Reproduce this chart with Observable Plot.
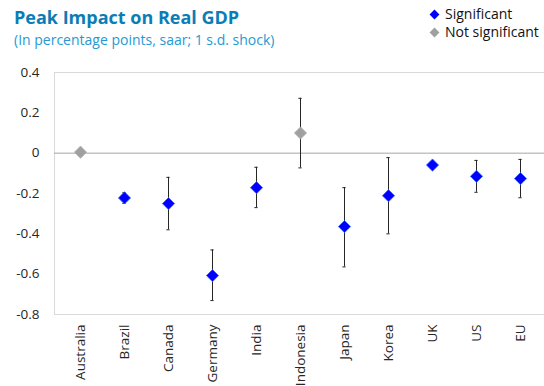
<!DOCTYPE html>
<html>
<head>
<meta charset="utf-8">
<script src="https://cdn.jsdelivr.net/npm/d3@7"></script>
<script src="https://cdn.jsdelivr.net/npm/@observablehq/plot@0.6"></script>
<style>
  body { margin: 0; background: #fff; font-family: "Open Sans", sans-serif; }
  #wrap { position: relative; width: 544px; height: 386px; overflow: hidden; }
  #head { height: 56px; position: relative; }
  #title { position: absolute; left: 14px; top: 5px; font-size: 18px; font-weight: bold; color: #0b7db6; }
  #subtitle { position: absolute; left: 14px; top: 30px; font-size: 14px; color: #2599d3; }
  #legend { position: absolute; left: 429px; top: 5px; font-size: 14px; color: #111; line-height: 18px; }
  #legend .d { display: inline-block; width: 7px; height: 7px; transform: rotate(45deg); margin-right: 7px; margin-left: 2px; vertical-align: 1px; }
</style>
</head>
<body>
<div id="wrap">
  <div id="head">
    <div id="title">Peak Impact on Real GDP</div>
    <div id="subtitle">(In percentage points, saar; 1 s.d. shock)</div>
    <div id="legend">
      <div><span class="d" style="background:#0000ff"></span>Significant</div>
      <div><span class="d" style="background:#a0a0a0"></span>Not significant</div>
    </div>
  </div>
  <div id="chart"></div>
</div>
<script>
const countries = ["Australia","Brazil","Canada","Germany","India","Indonesia","Japan","Korea","UK","US","EU"];
const impact    = [0.005, -0.222, -0.25, -0.607, -0.171, 0.10, -0.364, -0.211, -0.059, -0.115, -0.126];
const lower     = [null, -0.249, -0.38, -0.731, -0.27, -0.073, -0.564, -0.40, null, -0.194, -0.221];
const upper     = [null, -0.196, -0.12, -0.48, -0.07, 0.272, -0.171, -0.022, null, -0.036, -0.031];
const significant = [false, true, true, true, true, false, true, true, true, true, true];
const yTicks = [0.4, 0.2, 0, -0.2, -0.4, -0.6, -0.8];

const data = countries.map((c, i) => ({
  country: c, value: impact[i], lo: lower[i], hi: upper[i],
  sig: significant[i] ? "Significant" : "Not significant"
}));
const bars = data.filter(d => d.lo != null);

const bw = (544 - 54 + 2) / countries.length;
const capInset = bw / 2 - 2;

const chart = Plot.plot({
  width: 544,
  height: 330,
  marginTop: 16,
  marginBottom: 72,
  marginLeft: 54,
  marginRight: -2,
  style: { fontFamily: "Open Sans, sans-serif", fontSize: "13.5px", color: "#262626", background: "transparent" },
  x: { domain: countries, padding: 0, label: null },
  y: { domain: [-0.8, 0.4], label: null },
  color: { domain: ["Significant", "Not significant"], range: ["#0000ff", "#a0a0a0"] },
  marks: [
    Plot.ruleY([0.4, -0.8], { stroke: "#d9d9d9", strokeWidth: 1 }),
    Plot.frame({ anchor: "left", stroke: "#d9d9d9" }),
    Plot.ruleY([0], { stroke: "#a6a6a6", strokeWidth: 1 }),
    Plot.axisY({ ticks: yTicks, tickSize: 0, tickPadding: 15, tickFormat: d => d === 0 ? "0" : d.toFixed(1), fontSize: 13.5, label: null }),
    Plot.axisX({ tickSize: 0, tickPadding: 10, tickRotate: -90, fontSize: 13.5, label: null }),
    Plot.ruleX(bars, { x: "country", y1: "lo", y2: "hi", stroke: "#262626", strokeWidth: 1 }),
    Plot.tickY(bars, { x: "country", y: "lo", stroke: "#262626", strokeWidth: 1, insetLeft: capInset, insetRight: capInset }),
    Plot.tickY(bars, { x: "country", y: "hi", stroke: "#262626", strokeWidth: 1, insetLeft: capInset, insetRight: capInset }),
    Plot.dot(data, { x: "country", y: "value", symbol: "diamond2", r: 5.5, fill: "sig", stroke: d => d.sig === "Significant" ? "#3366ff" : "#b0b0b0", strokeWidth: 0.8 })
  ]
});
document.getElementById("chart").appendChild(chart);
</script>
</body>
</html>
